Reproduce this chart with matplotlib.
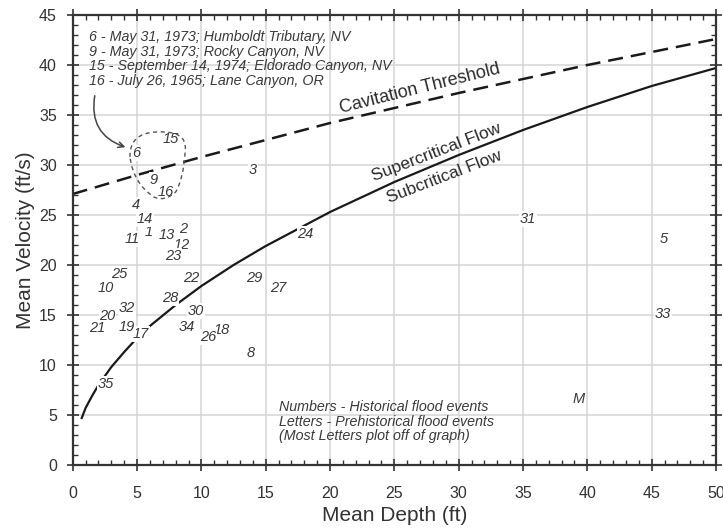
import numpy as np
import matplotlib.pyplot as plt
from matplotlib.path import Path
from matplotlib.patches import PathPatch

plt.rcParams['font.family'] = ['Liberation Sans', 'DejaVu Sans']

# Froude number = 1 line (supercritical / subcritical boundary)
crit_depth = [0.7, 1, 1.5, 2, 3, 4, 5, 6, 8, 10, 12.5, 15, 20, 25, 30, 35, 40, 45, 50]
crit_vel = [4.7, 5.7, 6.9, 8.0, 9.8, 11.3, 12.7, 13.9, 16.0, 17.9, 20.0, 21.9,
            25.3, 28.3, 31.0, 33.5, 35.8, 37.9, 39.7]

# cavitation threshold
cav_depth = [0, 5, 10, 15, 20, 25, 30, 35, 40, 45, 50]
cav_vel = [27.1, 29.0, 30.8, 32.5, 34.2, 35.7, 37.2, 38.6, 40.0, 41.3, 42.6]

# flood events
event_ids = ['1', '2', '3', '4', '5', '6', '8', '9', '10', '11', '12', '13', '14',
             '15', '16', '17', '18', '19', '20', '21', '22', '23', '24', '25', '26',
             '27', '28', '29', '30', '31', '32', '33', '34', '35', 'M']
event_depth = [5.9, 8.6, 14.0, 4.9, 45.9, 4.9, 13.8, 6.3, 2.6, 4.6, 8.5, 7.3, 5.6,
               7.6, 7.2, 5.3, 11.6, 4.2, 2.7, 1.9, 9.2, 7.8, 18.1, 3.6, 10.5,
               16.0, 7.6, 14.1, 9.6, 35.4, 4.2, 45.9, 8.9, 2.6, 39.3]
event_vel = [23.3, 23.6, 29.5, 26.0, 22.6, 31.2, 11.2, 28.5, 17.7, 22.6, 22.0, 23.0,
             24.6, 32.6, 27.3, 13.1, 13.5, 13.8, 14.9, 13.7, 18.7, 20.9, 23.1, 19.1,
             12.8, 17.7, 16.7, 18.7, 15.4, 24.6, 15.7, 15.1, 13.8, 8.1, 6.6]

note_top = ['6 - May 31, 1973; Humboldt Tributary, NV',
            '9 - May 31, 1973; Rocky Canyon, NV',
            '15 - September 14, 1974; Eldorado Canyon, NV',
            '16 - July 26, 1965; Lane Canyon, OR']
note_bottom = ['Numbers - Historical flood events',
               'Letters - Prehistorical flood events',
               '(Most Letters plot off of graph)']

fig = plt.figure(figsize=(7.23, 5.29), dpi=100)
ax = fig.add_axes([0.1006, 0.121, 0.8897, 0.8506])

ax.plot(cav_depth, cav_vel, color='#1a1a1a', lw=1.8, dashes=(6, 3.2), zorder=2)
ax.plot(crit_depth, crit_vel, color='#1a1a1a', lw=1.6, zorder=2)

txt_color = '#3a3a3a'
for lab, d, v in zip(event_ids, event_depth, event_vel):
    ax.text(d, v, lab, ha='center', va='center', fontsize=10.5, style='italic',
            color=txt_color, zorder=3,
            bbox=dict(boxstyle='square,pad=0.05', fc='white', ec='none'))

# dashed loop around events 6, 9, 15, 16
verts = [(4.45, 30.8), (4.4, 33.2), (6.5, 33.3), (8.9, 33.5), (8.75, 31.5),
         (8.6, 28.5), (8.0, 27.3), (7.2, 26.3), (6.3, 26.8), (4.7, 28.2), (4.45, 30.8)]
codes = [Path.MOVETO] + [Path.CURVE3] * 10
ax.add_patch(PathPatch(Path(verts, codes), fill=False, ec='#555555', lw=1.0,
                       ls=(0, (3, 2.5)), zorder=4))

ax.text(1.3, 43.5, '\n'.join(note_top), ha='left', va='top', fontsize=10.3,
        style='italic', color=txt_color, linespacing=1.06, zorder=3)
ax.annotate('', xy=(4.3, 31.7), xytext=(1.75, 37.2),
            arrowprops=dict(arrowstyle='->', color='#444444', lw=1.1,
                            connectionstyle='arc3,rad=0.45'), zorder=4)
ax.text(16.0, 6.5, '\n'.join(note_bottom), ha='left', va='top', fontsize=10.3,
        style='italic', color=txt_color, linespacing=1.06, zorder=3)

ax.text(27.0, 37.6, 'Cavitation Threshold', rotation=14, ha='center', va='center',
        fontsize=13, color='#2a2a2a')
ax.text(28.3, 31.3, 'Supercritical Flow', rotation=21, ha='center', va='center',
        fontsize=12.5, color='#2a2a2a')
ax.text(28.9, 28.8, 'Subcritical Flow', rotation=21, ha='center', va='center',
        fontsize=12.5, color='#2a2a2a')

ax.set_xlim(0, 50)
ax.set_ylim(0, 45)
ax.set_xticks(np.arange(0, 51, 5))
ax.set_yticks(np.arange(0, 46, 5))
ax.set_xticks(np.arange(0, 51, 1), minor=True)
ax.set_yticks(np.arange(0, 46, 1), minor=True)
ax.grid(True, which='major', color='#d4d4d4', lw=1.1, zorder=0)
ax.set_axisbelow(True)
ax.tick_params(which='major', direction='inout', length=8, width=1.2, color='#333333',
               labelsize=11.5, labelcolor='#333333', top=True, right=True)
ax.tick_params(axis='x', which='major', pad=11)
ax.tick_params(axis='y', which='major', pad=7.5)
ax.tick_params(which='minor', direction='in', length=3.5, width=1.0, color='#333333',
               top=True, right=True)
for s in ax.spines.values():
    s.set_color('#333333')
    s.set_linewidth(1.6)

ax.set_xlabel('Mean Depth (ft)', fontsize=15, color='#333333', labelpad=4)
ax.set_ylabel('Mean Velocity (ft/s)', fontsize=15, color='#333333', labelpad=3)

fig.savefig('out.png', dpi=100)
